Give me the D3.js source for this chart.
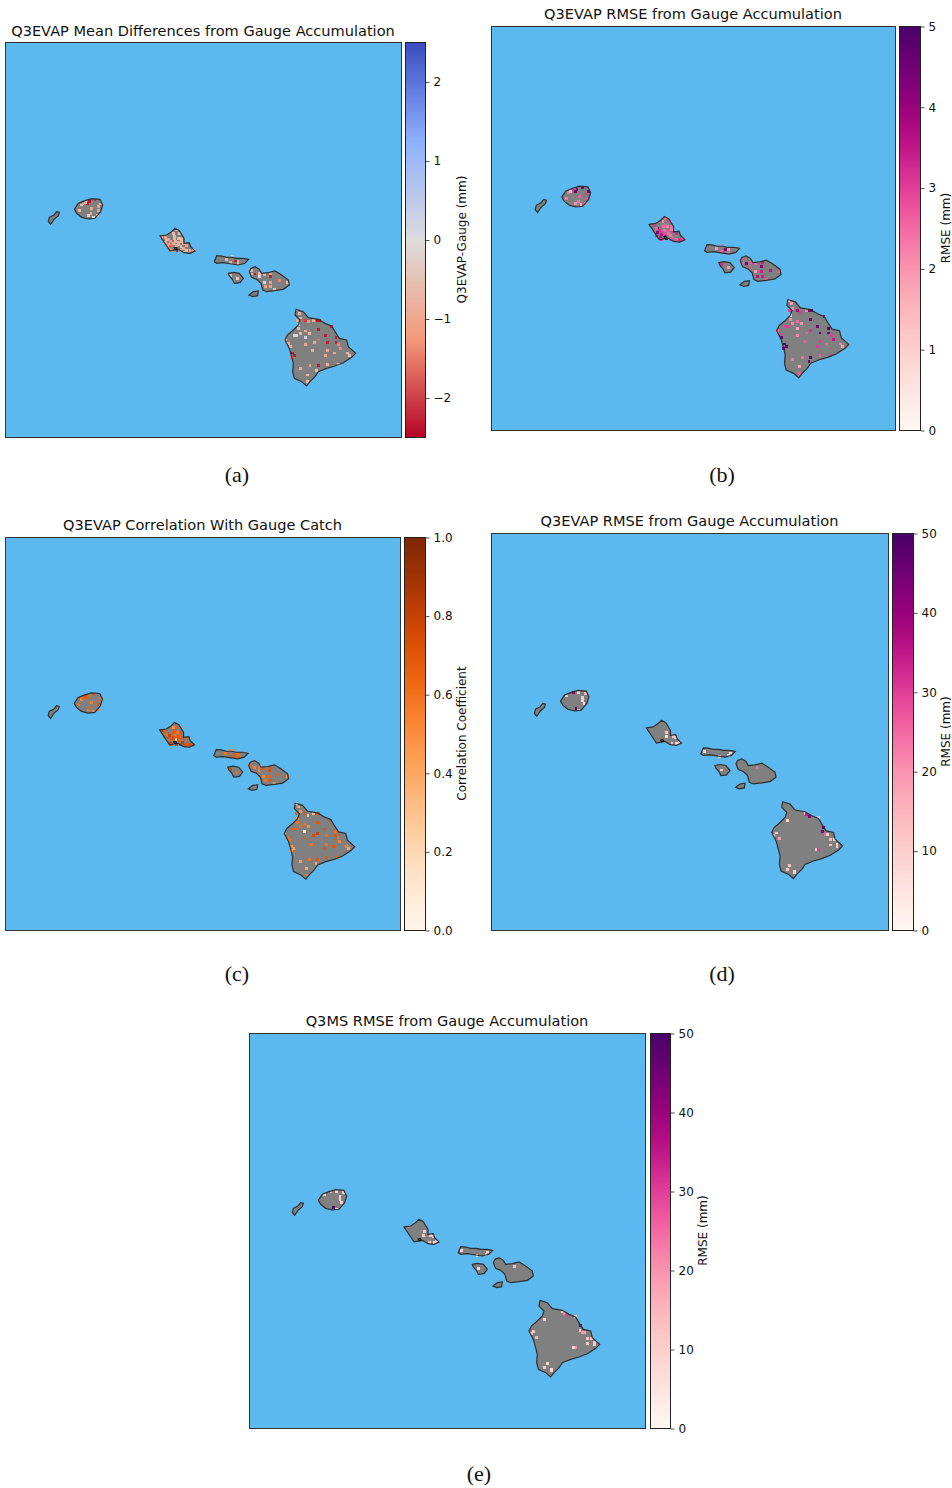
<!DOCTYPE html>
<html>
<head>
<meta charset="utf-8">
<script src="https://cdn.jsdelivr.net/npm/d3@7"></script>
<style>
  body { margin: 0; background: #fff; }
  text { font-family: "DejaVu Sans", sans-serif; fill: #111; }
  .caption { font-family: "Liberation Serif", serif; font-size: 22px; }
  .title { font-size: 14.55px; }
  .bar-label { font-size: 12px; }
  .tick text { font-family: "DejaVu Sans", sans-serif; font-size: 12px; }
</style>
</head>
<body>
<svg id="chart" width="952" height="1488"></svg>
<script>
const OCEAN = "#5bb9f0";
const LAND = "#808080";
const COAST = "#2f2f2f";

const lonDomain = [-161, -154];
const latDomain = [18, 25];
const cellDeg = 0.05;

// coastlines, [lon, lat]
const niihau = [[-160.234,21.817],[-160.216,21.893],[-160.134,21.935],[-160.087,21.994],[-160.040,21.982],[-160.057,21.923],[-160.134,21.858],[-160.193,21.769]];
const kauai = [[-159.774,22.035],[-159.704,22.142],[-159.586,22.189],[-159.468,22.224],[-159.321,22.212],[-159.274,22.112],[-159.309,21.994],[-159.409,21.876],[-159.527,21.864],[-159.645,21.893],[-159.733,21.964]];
const oahu = [[-158.260,21.563],[-158.142,21.580],[-158.054,21.639],[-157.995,21.698],[-157.918,21.657],[-157.836,21.521],[-157.836,21.433],[-157.742,21.444],[-157.718,21.374],[-157.641,21.297],[-157.730,21.255],[-157.836,21.267],[-157.936,21.326],[-158.083,21.297],[-158.154,21.403]];
const pearlHarbor = [[-158.01,21.35],[-157.97,21.36],[-157.96,21.33],[-157.99,21.32]];
const molokai = [[-157.300,21.107],[-157.258,21.213],[-157.170,21.207],[-157.082,21.184],[-156.981,21.184],[-156.905,21.166],[-156.787,21.166],[-156.693,21.148],[-156.758,21.078],[-156.875,21.048],[-156.993,21.066],[-157.141,21.089],[-157.258,21.078]];
const lanai = [[-157.052,20.900],[-156.964,20.918],[-156.858,20.900],[-156.787,20.812],[-156.846,20.735],[-156.946,20.723],[-156.982,20.794],[-157.034,20.853]];
const kahoolawe = [[-156.687,20.516],[-156.610,20.575],[-156.522,20.587],[-156.534,20.505],[-156.622,20.487]];
const maui = [[-156.681,20.930],[-156.652,20.989],[-156.581,21.018],[-156.504,20.971],[-156.463,20.900],[-156.345,20.912],[-156.227,20.942],[-156.110,20.871],[-155.992,20.782],[-155.974,20.694],[-156.080,20.617],[-156.227,20.593],[-156.375,20.575],[-156.445,20.605],[-156.475,20.723],[-156.551,20.794],[-156.640,20.829]];
const hawaii = [[-155.856,20.262],[-155.727,20.221],[-155.638,20.115],[-155.461,20.085],[-155.343,20.014],[-155.226,19.967],[-155.167,19.867],[-155.090,19.748],[-154.961,19.719],[-154.931,19.601],[-154.801,19.483],[-154.872,19.412],[-155.019,19.317],[-155.167,19.258],[-155.314,19.217],[-155.461,19.158],[-155.520,19.069],[-155.609,18.981],[-155.668,18.904],[-155.756,18.981],[-155.886,19.040],[-155.915,19.158],[-155.903,19.305],[-155.933,19.424],[-155.974,19.571],[-156.051,19.719],[-156.009,19.807],[-155.903,19.896],[-155.815,19.985],[-155.785,20.073],[-155.874,20.162]];
const islands = [niihau, kauai, oahu, molokai, lanai, kahoolawe, maui, hawaii];

// catch gauges: [lon, lat, mean difference, rmse, correlation]
const kauaiGauges = [
  [-159.51,22.17,-2.4,4.5,0.6],[-159.54,22.14,-2.4,4.6,0.65],[-159.41,22.20,-2.2,4.3,0.7],[-159.31,22.13,-1.0,4.4,0.6],
  [-159.35,22.08,-1.2,3.0,0.65],[-159.35,22.01,-1.1,2.8,0.7],[-159.47,22.05,-1.0,2.6,0.55],[-159.65,22.11,-0.7,2.4,0.5],
  [-159.69,22.01,-0.7,2.3,0.6],[-159.53,21.92,-0.2,2.0,0.55],[-159.44,21.90,0.1,1.8,0.5],[-159.62,22.13,-0.6,1.4,0.6],
  [-159.48,21.96,-0.9,2.4,0.65],[-159.58,22.16,-0.8,3.2,0.7],[-159.36,21.92,-0.6,2.2,0.6],
];
const oahuGauges = [
  [-158.23,21.55,-0.8,2.8,0.8],[-158.17,21.54,-1.0,3.0,0.7],[-158.11,21.50,-1.2,4.4,0.75],[-158.02,21.61,-0.6,2.2,0.5],
  [-157.97,21.67,-0.9,2.6,0.7],[-157.91,21.61,-0.5,3.0,0.65],[-157.88,21.52,-0.8,2.4,0.7],[-158.08,21.46,-1.3,3.2,0.8],
  [-157.99,21.46,-0.7,2.5,0.6],[-157.94,21.44,-0.9,2.7,0.7],[-158.11,21.42,-1.1,4.2,0.75],[-158.05,21.39,-1.6,3.6,0.7],
  [-157.97,21.39,-0.8,2.8,0.3],[-157.89,21.37,-0.6,2.3,0.65],[-157.85,21.34,-0.9,2.7,0.8],[-157.79,21.31,-0.7,2.4,0.7],
  [-157.73,21.30,-1.0,3.2,0.75],[-157.67,21.30,-0.9,2.6,0.7],[-158.07,21.33,-1.5,3.5,0.85],[-158.14,21.49,-0.8,2.6,0.6],
  [-157.85,21.43,-1.0,3.0,0.7],[-157.79,21.40,-1.1,3.3,0.65],[-158.01,21.52,-0.7,2.4,0.7],[-157.94,21.52,-0.6,2.1,0.6],
  [-158.05,21.30,-1.2,3.0,0.7],[-157.89,21.30,-0.9,2.8,0.8],[-157.82,21.28,-1.0,2.9,0.75],[-158.17,21.44,-0.9,2.7,0.65],
  [-157.93,21.41,-0.8,2.5,0.7],[-158.02,21.43,-1.0,2.9,0.75],[-157.88,21.47,-0.7,2.3,0.65],[-158.13,21.37,-1.1,3.2,0.55],
  [-158.00,21.55,-0.8,2.6,0.7],[-157.96,21.31,-2.3,4.8,0.8],
];
const mauiCountyGauges = [
  [-157.09,21.15,-0.6,2.0,0.6],[-156.93,21.12,-2.3,4.4,0.7],[-157.01,21.09,-0.9,2.6,0.7],[-156.88,21.12,-0.7,2.0,0.6],
  [-156.98,21.20,-0.5,2.4,0.5],[-156.88,21.07,-0.7,2.6,0.65],[-156.89,20.81,-0.4,2.0,0.6],[-157.01,20.86,-0.8,3.2,0.75],
  [-156.65,20.95,-0.7,2.8,0.6],[-156.65,20.89,-0.7,2.6,0.65],[-156.58,20.89,-2.3,4.3,0.55],[-156.50,20.90,-0.7,2.7,0.6],
  [-156.50,20.84,0.2,2.8,0.55],[-156.42,20.88,-0.9,2.6,0.7],[-156.42,20.74,0.3,2.0,0.55],[-156.30,20.90,-1.2,3.4,0.7],
  [-156.31,20.84,-2.3,4.2,0.75],[-156.31,20.74,-1.2,3.4,0.65],[-156.39,20.66,-1.1,3.6,0.6],[-156.30,20.66,-1.2,3.4,0.7],
  [-156.15,20.77,-1.4,3.6,0.65],[-156.00,20.74,-0.8,2.6,0.55],[-156.23,20.62,-0.7,2.8,0.5],
];
const hawaiiGauges = [
  [-155.84,20.25,0.1,1.4,0.0],[-155.80,20.19,-0.7,1.9,0.4],[-155.77,20.11,-0.7,2.0,0.5],[-155.83,20.07,-1.1,3.0,0.65],
  [-155.69,20.07,-2.0,3.8,0.7],[-155.63,20.04,-1.3,3.0,0.3],[-155.54,20.07,-0.8,2.2,0.25],[-155.48,20.07,-2.4,4.5,0.7],
  [-155.44,20.07,-2.4,4.5,0.7],[-155.23,19.96,-2.3,4.8,0.75],[-155.81,19.99,0.1,1.4,0.5],[-155.81,19.92,-0.7,2.2,0.6],
  [-155.46,19.91,-2.3,4.5,0.7],[-155.69,19.88,-1.1,2.5,0.6],[-155.62,19.84,-0.7,2.0,0.5],[-155.77,19.84,-0.8,2.2,0.6],
  [-155.89,19.80,0.2,3.0,0.65],[-155.84,19.80,0.2,3.0,0.65],[-155.69,19.76,0.3,1.8,0.1],[-155.34,19.80,-2.3,4.6,0.7],
  [-155.15,19.76,-2.3,4.6,0.6],[-155.15,19.68,-2.3,4.5,0.7],[-155.30,19.68,-2.3,4.5,0.6],[-155.46,19.72,-1.6,3.2,0.8],
  [-155.53,19.68,-1.0,2.6,0.75],[-155.69,19.64,-1.0,2.2,0.7],[-155.10,19.64,-1.4,3.0,0.6],[-155.07,19.57,-1.4,3.5,0.55],
  [-156.04,19.72,-0.7,2.5,0.5],[-155.99,19.65,-0.9,3.0,0.6],[-155.96,19.60,-0.9,4.5,0.6],[-155.30,19.53,-1.1,3.0,0.6],
  [-155.57,19.53,-0.9,2.7,0.6],[-155.92,19.49,-2.4,4.7,0.5],[-155.88,19.45,-2.3,4.8,0.4],[-155.93,19.41,-1.5,4.6,0.45],
  [-155.34,19.45,-1.1,3.0,0.7],[-155.18,19.49,-1.1,2.7,0.7],[-154.95,19.49,-0.7,2.2,0.55],[-154.91,19.45,-0.5,1.8,0.4],
  [-155.46,19.26,-2.3,4.7,0.7],[-155.61,19.26,-1.1,2.4,0.6],[-155.77,19.22,-0.9,2.3,0.45],[-155.30,19.29,-0.9,2.6,0.7],
  [-155.11,19.29,-0.8,3.0,0.6],[-155.49,19.18,-0.6,4.5,0.4],[-155.65,19.10,-0.8,1.8,0.4],[-155.65,18.98,-0.6,2.6,0.6],
];
const catchGauges = [...kauaiGauges, ...oahuGauges, ...mauiCountyGauges, ...hawaiiGauges];

// accumulation gauges: [lon, lat, Q3EVAP rmse, Q3MS rmse]
const accumulationGauges = [
  [-159.55,22.19,42,16],[-159.46,22.19,12,10],[-159.33,22.17,15,12],[-159.67,22.13,11,10],[-159.39,22.10,11,10],[-159.39,22.05,11,10],
  [-159.36,21.996,9,8],[-159.50,21.91,48,48],[-159.46,21.88,9,8],
  [-157.90,21.48,12,12],[-157.91,21.41,9,10],[-157.785,21.41,12,12],[-157.74,21.40,12,12],[-157.81,21.29,12,11],[-157.73,21.29,8,9],[-157.68,21.30,9,8],
  [-157.24,21.14,10,8],[-156.97,21.06,8,7],[-156.81,21.07,6,6],[-156.78,21.12,9,8],[-156.94,20.82,12,8],[-156.31,20.86,25,14],
  [-155.46,20.06,15,12],[-155.43,20.03,35,22],[-155.39,20.00,42,30],[-155.23,19.98,15,11],[-155.77,19.93,8,8],[-155.14,19.81,48,48],
  [-155.15,19.73,42,12],[-155.97,19.71,12,12],[-156.01,19.67,12,11],[-155.92,19.61,18,16],[-155.11,19.69,25,20],[-155.07,19.69,12,18],
  [-155.01,19.59,15,12],[-154.95,19.59,10,12],[-154.90,19.515,10,13],[-154.90,19.47,10,13],[-155.02,19.50,13,11],[-155.26,19.42,13,10],
  [-155.22,19.42,30,22],[-155.73,19.14,13,9],[-155.77,19.07,12,12],[-155.65,19.04,10,8],[-155.65,19.01,10,8],
];

const diffTicks = [-2, -1, 0, 1, 2];
const rmseSmallTicks = [0, 1, 2, 3, 4, 5];
const rmseLargeTicks = [0, 10, 20, 30, 40, 50];
const corrTicks = [0, 0.2, 0.4, 0.6, 0.8, 1];

const coolwarmReversed = d3.piecewise(d3.interpolateRgb, ["#b40426", "#f49a7b", "#dddcdc", "#8db0fe", "#3b4cc0"]);

const panels = [
  { title: "Q3EVAP Mean Differences from Gauge Accumulation", titleY: 36, caption: "(a)", capX: 237, capY: 482,
    box: [5, 42, 401, 437], bar: [405, 425], labelX: 466, label: "Q3EVAP-Gauge (mm)",
    domain: [-2.5, 2.5], ticks: diffTicks, interp: coolwarmReversed, gauges: catchGauges, col: 2, fmt: d3.format("d") },
  { title: "Q3EVAP RMSE from Gauge Accumulation", titleY: 19, caption: "(b)", capX: 722, capY: 482,
    box: [491, 26, 895, 430], bar: [899, 920], labelX: 950, label: "RMSE (mm)",
    domain: [0, 5], ticks: rmseSmallTicks, interp: d3.interpolateRdPu, gauges: catchGauges, col: 3, fmt: d3.format("d") },
  { title: "Q3EVAP Correlation With Gauge Catch", titleY: 530, caption: "(c)", capX: 237, capY: 981,
    box: [5, 537, 400, 930], bar: [404, 425], labelX: 466, label: "Correlation Coefficient",
    domain: [0, 1], ticks: corrTicks, interp: d3.interpolateOranges, gauges: catchGauges, col: 4, fmt: d3.format(".1f") },
  { title: "Q3EVAP RMSE from Gauge Accumulation", titleY: 526, caption: "(d)", capX: 722, capY: 981,
    box: [491, 533, 888, 930], bar: [892, 913], labelX: 950, label: "RMSE (mm)",
    domain: [0, 50], ticks: rmseLargeTicks, interp: d3.interpolateRdPu, gauges: accumulationGauges, col: 2, fmt: d3.format("d") },
  { title: "Q3MS RMSE from Gauge Accumulation", titleY: 1026, caption: "(e)", capX: 479, capY: 1481,
    box: [249, 1033, 645, 1428], bar: [650, 670], labelX: 707, label: "RMSE (mm)",
    domain: [0, 50], ticks: rmseLargeTicks, interp: d3.interpolateRdPu, gauges: accumulationGauges, col: 3, fmt: d3.format("d") },
];

const svg = d3.select("#chart");
const defs = svg.append("defs");

function drawPanel(p, idx) {
  const [x0, y0, x1, y1] = p.box;
  const x = d3.scaleLinear().domain(lonDomain).range([x0, x1]);
  const y = d3.scaleLinear().domain(latDomain).range([y1, y0]);
  const color = d3.scaleSequential(p.interp).domain(p.domain);
  const line = d3.line().x((d) => x(d[0])).y((d) => y(d[1])).curve(d3.curveLinearClosed);
  const g = svg.append("g");

  g.append("rect").attr("x", x0).attr("y", y0).attr("width", x1 - x0).attr("height", y1 - y0).attr("fill", OCEAN);

  g.selectAll("path.land").data(islands).join("path")
    .attr("class", "land").attr("d", line).attr("fill", LAND);

  // lon/lat in the gauge rows are cell centres
  g.selectAll("rect.cell").data(p.gauges).join("rect")
    .attr("class", "cell")
    .attr("x", (d) => x(d[0] - cellDeg / 2))
    .attr("y", (d) => y(d[1] + cellDeg / 2))
    .attr("width", x(lonDomain[0] + cellDeg) - x(lonDomain[0]))
    .attr("height", y(latDomain[0]) - y(latDomain[0] + cellDeg))
    .attr("shape-rendering", "crispEdges")
    .attr("fill", (d) => color(d[p.col]));

  g.selectAll("path.coast").data(islands).join("path")
    .attr("class", "coast").attr("d", line).attr("fill", "none")
    .attr("stroke", COAST).attr("stroke-width", 1.2);

  g.append("path").datum(pearlHarbor).attr("d", line)
    .attr("fill", "none").attr("stroke", "#111").attr("stroke-width", 1.2);

  g.append("rect").attr("x", x0 + 0.5).attr("y", y0 + 0.5).attr("width", x1 - x0).attr("height", y1 - y0)
    .attr("fill", "none").attr("stroke", "#333").attr("stroke-width", 1);

  g.append("text").attr("class", "title")
    .attr("x", (x0 + x1) / 2).attr("y", p.titleY).attr("text-anchor", "middle").text(p.title);

  // colorbar
  const [bx0, bx1] = p.bar;
  const barScale = d3.scaleLinear().domain(p.domain).range([y1, y0]);
  const gradId = `bar-${idx}`;
  const grad = defs.append("linearGradient").attr("id", gradId).attr("x1", 0).attr("x2", 0).attr("y1", 1).attr("y2", 0);
  d3.range(0, 1.0001, 0.05).forEach((t) => {
    grad.append("stop").attr("offset", t).attr("stop-color", p.interp(t));
  });
  g.append("rect").attr("x", bx0 + 0.5).attr("y", y0 + 0.5).attr("width", bx1 - bx0).attr("height", y1 - y0)
    .attr("fill", `url(#${gradId})`).attr("stroke", "#222").attr("stroke-width", 1);

  const axis = g.append("g").attr("transform", `translate(${bx1 + 1},0.5)`)
    .call(d3.axisRight(barScale).tickValues(p.ticks).tickSize(3.5).tickPadding(4).tickFormat((d) => p.fmt(d).replace("-", "\u2212")));
  axis.select(".domain").remove();
  axis.selectAll(".tick line").attr("stroke", "#222").attr("stroke-width", 0.8);

  g.append("text").attr("class", "bar-label")
    .attr("transform", `translate(${p.labelX},${(y0 + y1) / 2}) rotate(-90)`)
    .attr("text-anchor", "middle").text(p.label);

  g.append("text").attr("class", "caption")
    .attr("x", p.capX).attr("y", p.capY).attr("text-anchor", "middle").text(p.caption);
}

panels.forEach(drawPanel);
</script>
</body>
</html>
